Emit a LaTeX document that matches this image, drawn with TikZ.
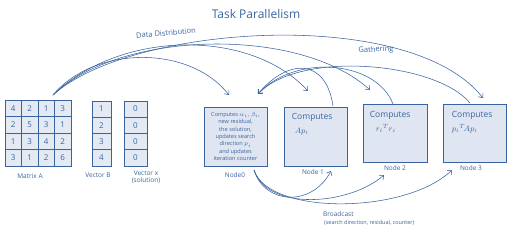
\documentclass[tikz,border=0pt]{standalone}
\usepackage{fontspec}
\setmainfont{Open Sans}
\usetikzlibrary{arrows.meta,calc}
\definecolor{ink}{HTML}{3A64A0}
\definecolor{boxfill}{HTML}{DFE6F1}
\definecolor{cellfill}{HTML}{E4EAF4}
\tikzset{
  lbl/.style={text=ink,font=\fontsize{6.5}{7}\selectfont,inner sep=0pt},
  nodebox/.style={draw=ink,fill=boxfill,line width=0.7pt,minimum width=63pt,minimum height=58pt,inner sep=0pt},
  cell/.style={draw=ink,fill=cellfill,line width=0.6pt,inner sep=0pt,text=ink,font=\fontsize{8}{8}\selectfont},
  conn/.style={draw=ink,line width=0.55pt,-{Straight Barb[length=3.5pt,width=6pt]}},
  inbox/.style={text=ink,align=left,anchor=north west,inner sep=0pt,font=\fontsize{8.5}{14}\selectfont}
}
\begin{document}
\begin{tikzpicture}[x=1pt,y=-1pt]
\useasboundingbox (0,0) rectangle (512,231);
\fill[white] (0,0) rectangle (512,231);
% title
\node[text=ink,font=\fontsize{12}{12}\selectfont] (title) at (256,14) {Task Parallelism};
% matrix A
\foreach \r/\row in {1/{4,2,1,3},2/{2,5,3,1},3/{1,3,4,2},4/{3,1,2,6}} {
  \foreach \v [count=\c] in \row {
    \node[cell,minimum width=16.5pt,minimum height=16.5pt] (m-\r-\c) at ({5+16.5*(\c-0.5)},{100+16.5*(\r-0.5)}) {\v};
  }
}
% vector B
\foreach \v [count=\r] in {1,2,3,4} {
  \node[cell,minimum width=19pt,minimum height=16.25pt] (b-\r) at (101.5,{101+16.25*(\r-0.5)}) {\v};
}
% vector x
\foreach \v [count=\r] in {0,0,0,0} {
  \node[cell,minimum width=23pt,minimum height=16.25pt] (x-\r) at (135.5,{101+16.25*(\r-0.5)}) {\v};
}
\node[lbl] (lA) at (30,176) {Matrix A};
\node[lbl] (lB) at (98,175) {Vector B};
\node[lbl,align=center] (lx) at (146,177) {Vector x\\(solution)};
% nodes
\node[nodebox,minimum height=59pt] (n0) at (235.5,136.5) {};
\node[nodebox,minimum height=59pt] (n1) at (315.5,136.5) {};
\node[nodebox,minimum width=64pt] (n2) at (395,133) {};
\node[nodebox] (n3) at (474.5,133) {};
\node[text=ink,align=center,inner sep=0pt,font=\fontsize{5.6}{7.3}\selectfont] (n0t) at (n0.center) {Computes $\alpha_i,\beta_i$,\\ new residual,\\ the solution,\\ updates search\\ direction $p_i$\\ and updates\\ iteration counter};
\node[inbox] (n1t) at ($(n1.north west)+(8,6)$) {Computes\\ \hspace*{3pt}$Ap_i$};
\node[inbox] (n2t) at ($(n2.north west)+(7,7)$) {Computes\\ \hspace*{6pt}$r_i{}^T r_i$};
\node[inbox] (n3t) at ($(n3.north west)+(9,7)$) {Computes\\ $p_i{}^T\!Ap_i$};
\node[lbl] (l0) at (235,175) {Node0};
\node[lbl] (l1) at (313,172) {Node 1};
\node[lbl] (l2) at (395,168) {Node 2};
\node[lbl] (l3) at (471,168) {Node 3};
% connector end points
\coordinate (ds) at (53,95);
\coordinate (t0) at (229,95);
\coordinate (t1) at (308,91);
\coordinate (t2) at (370,90);
\coordinate (t3) at (483,98);
\coordinate (g0) at (258,94);
\coordinate (s1) at (333,106);
\coordinate (s2) at (393,104);
\coordinate (s3) at (470,103);
\coordinate (b0) at (254,170);
\coordinate (e1) at (331,171);
\coordinate (e2) at (384,175);
\coordinate (e3) at (452,170);
% data distribution
\draw[conn] (ds) .. controls (95,45) and (190,45) .. (t0);
\draw[conn] (ds) .. controls (120,30) and (250,28) .. (t1);
\draw[conn] (ds) .. controls (120,30) and (300,26) .. (t2);
\draw[conn] (ds) .. controls (130,25) and (410,5) .. (t3);
\node[text=ink,rotate=5,inner sep=0pt,font=\fontsize{7.5}{8}\selectfont] (dd) at (166,33) {Data Distribution};
% gathering
\draw[conn] (s1) .. controls (326,58) and (288,58) .. (g0);
\draw[conn] (s2) .. controls (376,60) and (295,54) .. (g0);
\draw[conn] (s3) .. controls (436,62) and (300,50) .. (g0);
\node[text=ink,rotate=3,inner sep=0pt,font=\fontsize{7.5}{8}\selectfont] (ga) at (376,50) {Gathering};
% broadcast
\draw[conn] (b0) .. controls (265,205) and (312,207) .. (e1);
\draw[conn] (b0) .. controls (268,212) and (350,205) .. (e2);
\draw[conn] (b0) .. controls (268,215) and (405,215) .. (e3);
\node[text=ink,anchor=west,inner sep=0pt,font=\fontsize{6.5}{7}\selectfont] (bc) at (323,214) {Broadcast};
\node[text=ink,anchor=west,inner sep=0pt,font=\fontsize{5.5}{6}\selectfont] (bc2) at (324,223) {(search direction, residual, counter)};
\end{tikzpicture}
\end{document}
